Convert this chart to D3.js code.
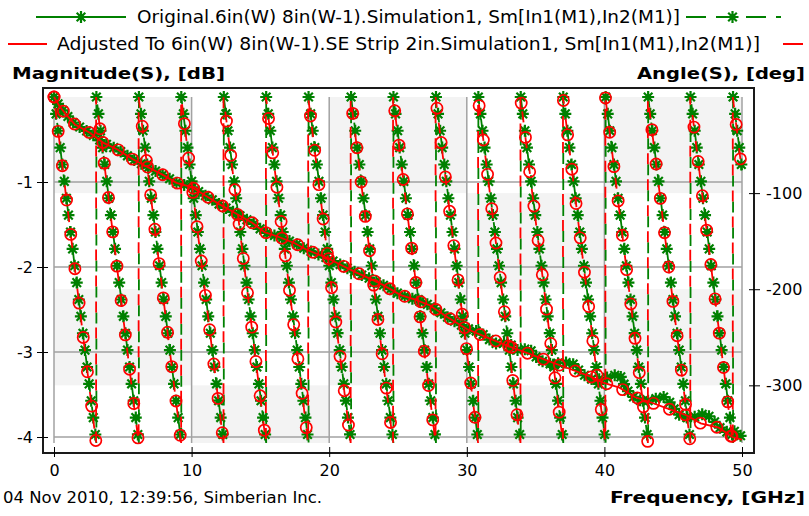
<!DOCTYPE html>
<html>
<head>
<meta charset="utf-8">
<script src="https://cdn.jsdelivr.net/npm/d3@7"></script>
<style>
body { margin: 0; background: #fff; }
svg { display: block; font-family: "DejaVu Sans", sans-serif; }
</style>
</head>
<body>
<div id="chart"></div>
<script>
// axis ticks
const freqTicks = [0, 10, 20, 30, 40, 50];
const magTicks = [-1, -2, -3, -4];
const angTicks = [-100, -200, -300];
const angBands = [0, -100, -200, -300, -360];

const seriesNames = [
    "Original.6in(W) 8in(W-1).Simulation1, Sm[In1(M1),In2(M1)]",
    "Adjusted To 6in(W) 8in(W-1).SE Strip 2in.Simulation1, Sm[In1(M1),In2(M1)]"
];
const seriesColors = ["#008000", "#ff0000"];

// magnitude (GHz, dB)
const magFreqRed = [0, 0.4, 0.8, 1.5, 2.6, 3.6, 4.65, 5.7, 6.75, 7.85, 8.9, 10, 11, 12, 13, 14.4, 15.3, 16.4, 17.5, 18.4,
    19.8, 20.9, 21.9, 23, 23.9, 25.2, 26.2, 27.3, 28.6, 30, 31.5, 33, 34.5, 36, 37.5, 39, 39.9, 41.1, 42.2, 43.5,
    44.5, 45.9, 47, 48.3, 49.3, 50];
const magRed = [0, -0.11, -0.19, -0.32, -0.42, -0.54, -0.62, -0.73, -0.82, -0.91, -1.01, -1.06, -1.16, -1.26, -1.35, -1.48, -1.59, -1.65, -1.72, -1.80,
    -1.89, -1.98, -2.06, -2.14, -2.21, -2.33, -2.38, -2.45, -2.59, -2.73, -2.83, -2.93, -3.02, -3.11, -3.20, -3.29, -3.36, -3.42, -3.53, -3.60,
    -3.66, -3.74, -3.84, -3.89, -4.00, -4.03];

const magFreqGreen = [0, 0.4, 0.8, 1.5, 2.6, 3.6, 4.65, 5.7, 6.75, 7.85, 8.9, 10, 11, 12, 13, 14.4, 15.3, 16.4, 17.5, 18.4,
    19.8, 20.9, 21.9, 23, 23.9, 25.2, 26.2, 27.3, 28.6, 30, 31, 32, 33, 33.8, 34.5, 35.2, 36, 36.8, 37.6, 38.4,
    39.2, 40, 40.6, 41.1, 41.6, 42.3, 43, 43.7, 44.3, 44.8, 45.3, 46, 46.7, 47.3, 47.8, 48.3, 49, 49.5, 50];
const magGreen = [0, -0.11, -0.19, -0.32, -0.42, -0.54, -0.62, -0.73, -0.82, -0.91, -1.01, -1.06, -1.16, -1.26, -1.35, -1.48, -1.59, -1.65, -1.72, -1.80,
    -1.89, -1.98, -2.06, -2.14, -2.21, -2.33, -2.38, -2.45, -2.59, -2.72, -2.77, -2.90, -2.89, -2.99, -2.95, -3.09, -3.14, -3.13, -3.12, -3.26,
    -3.33, -3.31, -3.28, -3.26, -3.44, -3.56, -3.58, -3.55, -3.53, -3.60, -3.73, -3.77, -3.76, -3.72, -3.78, -3.88, -3.95, -3.93, -4.00];

// wrapped phase (GHz, deg): each 0 -> -360 run is one slanted column
const phaseGHzGreen = [0, 3.08, 3.08, 6.17, 6.17, 9.25, 9.25, 12.34, 12.34, 15.42, 15.42, 18.5, 18.5, 21.59, 21.59, 24.67,
    24.67, 27.76, 27.76, 30.84, 30.84, 33.92, 33.92, 37.01, 37.01, 40.09, 40.09, 43.18, 43.18, 46.26, 46.26, 49.35, 49.35, 50];
const phaseDegGreen = [0, -360, 0, -360, 0, -360, 0, -360, 0, -360, 0, -360, 0, -360, 0, -360,
    0, -360, 0, -360, 0, -360, 0, -360, 0, -360, 0, -360, 0, -360, 0, -360, 0, -76];
const phaseGHzRed = [0, 3.06, 3.06, 6.15, 6.15, 9.24, 9.24, 12.32, 12.32, 15.40, 15.40, 18.47, 18.47, 21.56, 21.56, 24.64,
    24.64, 27.73, 27.73, 30.82, 30.82, 33.90, 33.90, 36.99, 36.99, 40.07, 40.07, 43.16, 43.16, 46.24, 46.24, 49.33, 49.33, 50];
const phaseDegRed = [0, -360, 0, -360, 0, -360, 0, -360, 0, -360, 0, -360, 0, -360, 0, -360,
    0, -360, 0, -360, 0, -360, 0, -360, 0, -360, 0, -360, 0, -360, 0, -360, 0, -78];

const width = 809, height = 516;
const frame = {left: 43, top: 88, right: 754, bottom: 453};

const svg = d3.select("#chart").append("svg")
    .attr("width", width)
    .attr("height", height);

const x = d3.scaleLinear().domain([0, 50]).range([54, 742]);
const yMag = d3.scaleLinear().domain([0, -4]).range([97, 437]);
const yAng = d3.scaleLinear().domain([0, -360]).range([97, 443]);

// checkerboard shading
const cells = [];
for (let i = 0; i < freqTicks.length - 1; i++) {
    for (let j = 0; j < angBands.length - 1; j++) {
        if ((i + j) % 2 === 0) cells.push({x0: freqTicks[i], x1: freqTicks[i + 1], a0: angBands[j], a1: angBands[j + 1]});
    }
}
svg.append("g").selectAll("rect")
    .data(cells)
    .join("rect")
        .attr("x", d => x(d.x0))
        .attr("y", d => yAng(d.a0))
        .attr("width", d => x(d.x1) - x(d.x0))
        .attr("height", d => yAng(d.a1) - yAng(d.a0))
        .attr("fill", "#f3f3f3");

// grid
const grid = svg.append("g").attr("stroke", "#a2a2a2").attr("stroke-width", 1.5);
grid.selectAll(".v").data(freqTicks).join("line")
    .attr("x1", d => x(d)).attr("x2", d => x(d))
    .attr("y1", yAng(0)).attr("y2", yAng(-360));
grid.selectAll(".h").data(magTicks).join("line")
    .attr("x1", x(0)).attr("x2", x(50))
    .attr("y1", d => yMag(d)).attr("y2", d => yMag(d));

// frame
svg.append("rect")
    .attr("x", frame.left).attr("y", frame.top)
    .attr("width", frame.right - frame.left).attr("height", frame.bottom - frame.top)
    .attr("fill", "none").attr("stroke", "#1a1a1a").attr("stroke-width", 2);

// axes
const fmt = d => String(d);
const axisStyle = g => {
    g.select(".domain").remove();
    g.selectAll("line").attr("stroke", "#000");
    g.selectAll("text").attr("fill", "#000").style("font-size", "16px").style("font-family", "DejaVu Sans");
};
svg.append("g").attr("transform", "translate(48,0)")
    .call(d3.axisLeft(yMag).tickValues(magTicks).tickSize(11).tickPadding(4).tickFormat(fmt))
    .call(axisStyle);
svg.append("g").attr("transform", "translate(749,0)")
    .call(d3.axisRight(yAng).tickValues(angTicks).tickSize(11).tickPadding(6).tickFormat(fmt))
    .call(axisStyle);
svg.append("g").attr("transform", "translate(0,447)")
    .call(d3.axisBottom(x).tickValues(freqTicks).tickSize(10).tickPadding(8).tickFormat(fmt))
    .call(axisStyle);

// clip to the frame
svg.append("clipPath").attr("id", "clip")
    .append("rect").attr("x", frame.left + 1).attr("y", frame.top + 1)
    .attr("width", frame.right - frame.left - 2).attr("height", frame.bottom - frame.top - 2);
const plot = svg.append("g").attr("clip-path", "url(#clip)");

// put a marker every `step` px along a polyline
function marksAlong(pts, step, carry) {
    const out = [];
    let next = carry;
    for (let i = 0; i < pts.length - 1; i++) {
        const [x0, y0] = pts[i], [x1, y1] = pts[i + 1];
        const len = Math.hypot(x1 - x0, y1 - y0);
        let s = next;
        while (s <= len) {
            const t = s / len;
            out.push([x0 + (x1 - x0) * t, y0 + (y1 - y0) * t]);
            s += step;
        }
        next = s - len;
    }
    return {out, next};
}

const starPath = "M-6,0L6,0M0,-6L0,6M-4.3,-4.3L4.3,4.3M-4.3,4.3L4.3,-4.3";
function drawStars(g, pts) {
    const s = g.selectAll(null).data(pts).join("g")
        .attr("transform", d => `translate(${d[0]},${d[1]})`);
    s.append("path").attr("d", starPath).attr("stroke", seriesColors[0]).attr("stroke-width", 2.2).attr("fill", "none");
    s.append("circle").attr("r", 2.8).attr("fill", seriesColors[0]);
}
function drawCircles(g, pts) {
    g.selectAll(null).data(pts).join("circle")
        .attr("cx", d => d[0]).attr("cy", d => d[1]).attr("r", 5.6)
        .attr("fill", "none").attr("stroke", seriesColors[1]).attr("stroke-width", 1.7);
}

const magLine = d3.line().x(d => x(d[0])).y(d => yMag(d[1]));
const angLine = d3.line().x(d => x(d[0])).y(d => yAng(d[1]));

function drawSeries(k, freqM, mag, freqP, deg, magStep, phStep, restart) {
    const color = seriesColors[k];
    const g = plot.append("g");
    const magData = freqM.map((f, i) => [f, mag[i]]);
    const phData = freqP.map((f, i) => [f, deg[i]]);

    g.append("path").datum(phData)
        .attr("d", angLine)
        .attr("fill", "none").attr("stroke", color).attr("stroke-width", 1.8)
        .attr("stroke-dasharray", "11,15")
        .attr("stroke-dashoffset", k === 0 ? 0 : 15);
    g.append("path").datum(magData)
        .attr("d", magLine)
        .attr("fill", "none").attr("stroke", color).attr("stroke-width", 1.8);

    // markers on the magnitude curve
    const magPx = magData.map(d => [x(d[0]), yMag(d[1])]);
    let pts = marksAlong(magPx, magStep, 0).out;

    // markers on the falling phase columns only
    let carry = 0;
    for (let i = 0; i < phData.length - 1; i += 2) {
        const col = [[x(phData[i][0]), yAng(phData[i][1])], [x(phData[i + 1][0]), yAng(phData[i + 1][1])]];
        const r = marksAlong(col, phStep, restart ? 0 : carry);
        pts = pts.concat(r.out);
        carry = r.next;
    }
    if (k === 0) drawStars(g, pts); else drawCircles(g, pts);
}

drawSeries(0, magFreqGreen, magGreen, phaseGHzGreen, phaseDegGreen, 8, 17, true);
drawSeries(1, magFreqRed, magRed, phaseGHzRed, phaseDegRed, 17, 34.6, false);

// legend
const legendRows = [
    {k: 0, y: 17, left: [36, 126], textX: 137, textW: 543, right: [686, 781]},
    {k: 1, y: 44, left: [8, 47], textX: 57, textW: 703, right: [783, 820]}
];
const leg = svg.append("g");
legendRows.forEach(r => {
    const color = seriesColors[r.k];
    leg.append("line").attr("x1", r.left[0]).attr("x2", r.left[1]).attr("y1", r.y).attr("y2", r.y)
        .attr("stroke", color).attr("stroke-width", 1.8);
    leg.append("line").attr("x1", r.right[0]).attr("x2", r.right[1]).attr("y1", r.y).attr("y2", r.y)
        .attr("stroke", color).attr("stroke-width", 1.8).attr("stroke-dasharray", "20,10");
    leg.append("text").attr("x", r.textX).attr("y", r.y + 6)
        .attr("textLength", r.textW).attr("lengthAdjust", "spacingAndGlyphs")
        .style("font-size", "17px").text(seriesNames[r.k]);
    if (r.k === 0) {
        drawStars(leg, [[(r.left[0] + r.left[1]) / 2, r.y], [(r.right[0] + r.right[1]) / 2 - 1, r.y]]);
    }
});

// titles
const titles = [
    {t: "Magnitude(S), [dB]", x: 12, y: 79, w: 213, bold: true},
    {t: "Angle(S), [deg]", x: 637, y: 79, w: 168, bold: true},
    {t: "Frequency, [GHz]", x: 610, y: 503, w: 195, bold: true},
    {t: "04 Nov 2010, 12:39:56, Simberian Inc.", x: 3, y: 503, w: 319, bold: false}
];
svg.append("g").selectAll("text")
    .data(titles)
    .join("text")
        .attr("x", d => d.x).attr("y", d => d.y)
        .attr("textLength", d => d.w).attr("lengthAdjust", "spacingAndGlyphs")
        .style("font-size", "16px")
        .style("font-weight", d => d.bold ? "bold" : "normal")
        .text(d => d.t);
</script>
</body>
</html>
